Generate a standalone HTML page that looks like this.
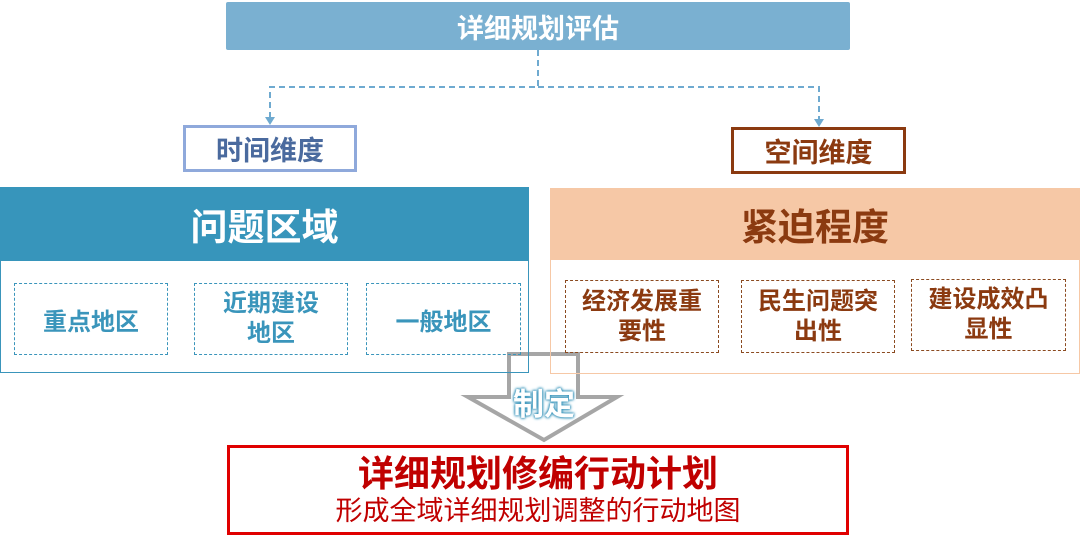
<!DOCTYPE html>
<html><head><meta charset="utf-8"><style>
body{margin:0;width:1080px;height:546px;background:#fff;position:relative;overflow:hidden;font-family:"Liberation Sans","Noto Sans CJK SC",sans-serif}
.a{position:absolute;box-sizing:border-box;display:flex;align-items:center;justify-content:center;text-align:center;font-weight:bold}
</style></head><body>
<div class="a" style="left:226px;top:2px;width:624px;height:48px;background:#7AB0D1;border-radius:2px;color:#fff;font-size:27px">详细规划评估</div>
<svg style="position:absolute;left:0;top:0" width="1080" height="546">
<g stroke="#6FAAD0" stroke-width="2" fill="none" stroke-dasharray="6,4">
<path d="M538 50 V87 H270 V118"/><path d="M538 87 H819 V120"/></g>
<path d="M265 117 L275 117 L270 125Z M814 119 L824 119 L819 127Z" fill="#6FAAD0"/>
<path d="M509 354 H578 V397 H617 L544 440 L468 397 H509Z" fill="none" stroke="#A6A6A6" stroke-width="4"/>
</svg>
<div class="a" style="left:183px;top:125px;width:174px;height:47px;border:3px solid #8FA9DB;color:#4A6A9E;font-size:27px">时间维度</div>
<div class="a" style="left:731px;top:127px;width:175px;height:47px;border:3px solid #8B3A10;color:#8B3A10;font-size:27px">空间维度</div>
<div class="a" style="left:0;top:187px;width:529px;height:186px;border:1.5px solid #3A95BB"></div>
<div class="a" style="left:0;top:187px;width:529px;height:74px;background:#3795BB;color:#fff;font-size:37px">问题区域</div>
<div class="a" style="left:14px;top:283px;width:154px;height:72px;border:1.5px dashed #3A95BB;color:#3A95BB;font-size:24px">重点地区</div>
<div class="a" style="left:194px;top:283px;width:154px;height:72px;border:1.5px dashed #3A95BB;color:#3A95BB;font-size:24px;line-height:30px">近期建设<br>地区</div>
<div class="a" style="left:366px;top:283px;width:155px;height:72px;border:1.5px dashed #3A95BB;color:#3A95BB;font-size:24px">一般地区</div>
<div class="a" style="left:550px;top:188px;width:530px;height:186px;border:1.5px solid #F6C8A6"></div>
<div class="a" style="left:550px;top:188px;width:530px;height:72px;background:#F6C8A6;color:#8B3A10;font-size:37px">紧迫程度</div>
<div class="a" style="left:565px;top:280px;width:154px;height:73px;border:1.5px dashed #8B4A20;color:#8B3A10;font-size:24px;line-height:30px">经济发展重<br>要性</div>
<div class="a" style="left:741px;top:280px;width:154px;height:73px;border:1.5px dashed #8B4A20;color:#8B3A10;font-size:24px;line-height:30px">民生问题突<br>出性</div>
<div class="a" style="left:911px;top:279px;width:155px;height:72px;border:1.5px dashed #8B4A20;color:#8B3A10;font-size:24px;line-height:30px">建设成效凸<br>显性</div>
<div class="a" style="left:494px;top:380px;width:100px;height:42px;color:#fff;font-size:31px;text-shadow:0 0 3px #3A95BB,0 0 3px #3A95BB,0 0 2px #3A95BB">制定</div>
<div class="a" style="left:227px;top:445px;width:622px;height:90px;border:3px solid #E00000;flex-direction:column;color:#C00000">
<div style="font-size:36px;line-height:42px">详细规划修编行动计划</div>
<div style="font-size:27px;line-height:32px;font-weight:normal">形成全域详细规划调整的行动地图</div></div>
</body></html>
